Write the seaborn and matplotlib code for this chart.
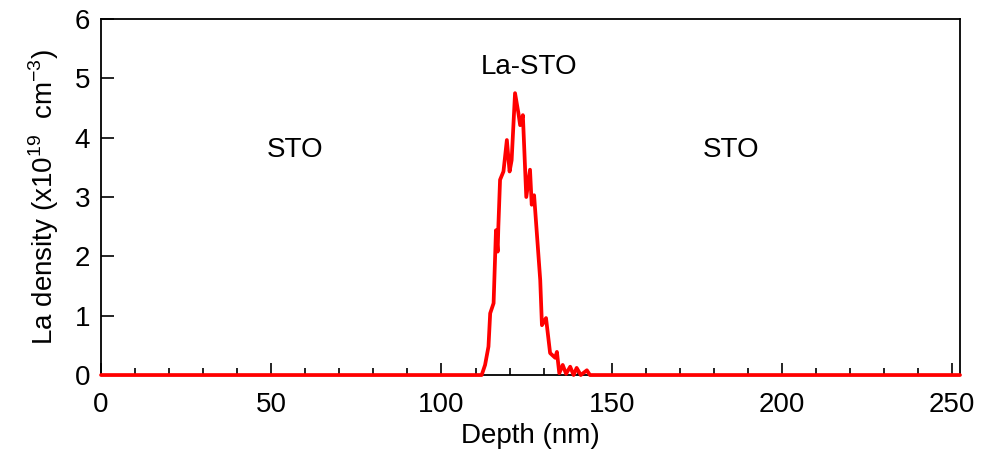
import numpy as np
import pandas as pd
import matplotlib
matplotlib.use("Agg")
import matplotlib.pyplot as plt
import seaborn as sns
from matplotlib.ticker import MultipleLocator

depth = [0, 50, 100, 111.8, 112.8, 113.8, 114.3, 115.3, 116.0, 116.5, 116.7, 117.2, 118.2,
         119.2, 120.0, 120.6, 121.6, 122.6, 123.1, 123.9, 124.9, 126.0, 126.5, 127.2,
         129.0, 129.5, 130.7, 131.9, 133.4, 133.9, 134.6, 135.6, 136.6, 137.8, 138.8,
         139.7, 140.9, 142.7, 143.6, 150, 200, 252.3]
density = [0, 0, 0, 0, 0.17, 0.48, 1.04, 1.21, 2.44, 2.08, 2.5, 3.29, 3.43,
           3.96, 3.43, 3.62, 4.75, 4.41, 4.21, 4.38, 3.0, 3.46, 2.87, 3.03,
           1.6, 0.84, 0.96, 0.37, 0.29, 0.39, 0.03, 0.17, 0.02, 0.14, 0.0,
           0.12, 0.0, 0.08, 0.0, 0, 0, 0]

labels = ["STO", "La-STO", "STO"]
label_x = [57, 125.7, 185]
label_y = [3.79, 5.19, 3.79]

sns.set_style("ticks")
plt.rcParams['font.family'] = ['Liberation Sans', 'DejaVu Sans']
plt.rcParams['mathtext.fontset'] = 'custom'
plt.rcParams['mathtext.rm'] = 'Liberation Sans'
plt.rcParams['text.color'] = 'black'
plt.rcParams['axes.labelcolor'] = 'black'
plt.rcParams['xtick.color'] = 'black'
plt.rcParams['ytick.color'] = 'black'

fig = plt.figure(figsize=(9.82, 4.63), dpi=100)
ax = fig.add_axes([0.1029, 0.19, 0.8747, 0.769])

df = pd.DataFrame({"depth": depth, "density": density})
sns.lineplot(data=df, x="depth", y="density", ax=ax, color="#ff0000", linewidth=2.7,
             sort=False, estimator=None, zorder=3, clip_on=False)

ax.set_xlim(0, 252.3)
ax.set_ylim(0, 6)
ax.xaxis.set_major_locator(MultipleLocator(50))
ax.xaxis.set_minor_locator(MultipleLocator(10))
ax.yaxis.set_major_locator(MultipleLocator(1))
ax.tick_params(axis='both', which='both', direction='in', labelsize=20, color='black',
               labelcolor='black', top=False, right=False)
ax.tick_params(which='major', length=9, width=1.2)
ax.tick_params(which='minor', length=5, width=1.2)
ax.tick_params(axis='x', pad=12)
ax.tick_params(axis='y', pad=8)
for s in ax.spines.values():
    s.set_visible(True)
    s.set_color('black')
    s.set_linewidth(1.3)

ax.set_xlabel("Depth (nm)", fontsize=20, labelpad=4, color='black')
ax.set_ylabel("La density (x10$^{19}$  cm$^{-3}$)", fontsize=20, labelpad=10, color='black')

for t, x, y in zip(labels, label_x, label_y):
    ax.text(x, y, t, fontsize=20, ha='center', va='center', color='black')

fig.savefig("out.png", dpi=100)
